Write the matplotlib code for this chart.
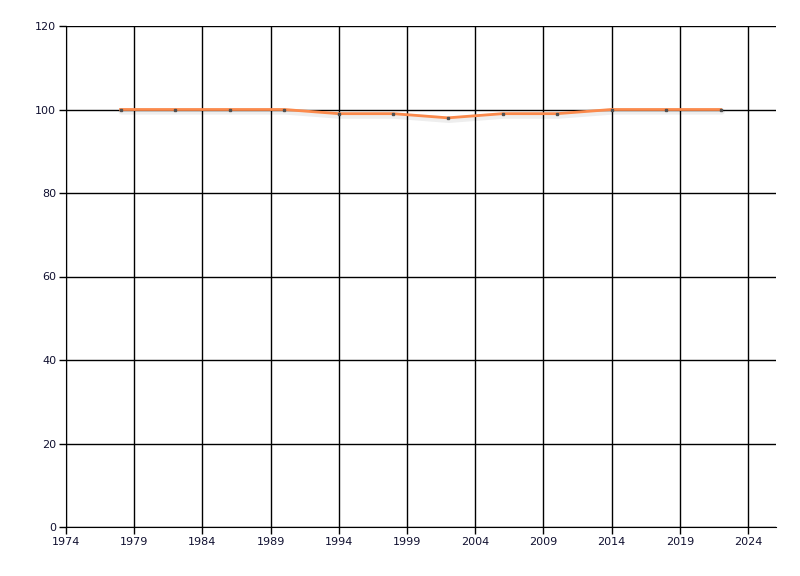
import matplotlib
matplotlib.use("Agg")
import matplotlib.pyplot as plt
import matplotlib.transforms as mtransforms

# donnees
years = [1978, 1982, 1986, 1990, 1994, 1998, 2002, 2006, 2010, 2014, 2018, 2022]
values = [100, 100, 100, 100, 99, 99, 98, 99, 99, 100, 100, 100]
xticks = [1974, 1979, 1984, 1989, 1994, 1999, 2004, 2009, 2014, 2019, 2024]
yticks = [0, 20, 40, 60, 80, 100, 120]

fig = plt.figure(figsize=(8, 5.76), dpi=100)
ax = fig.add_axes([66/800, 1 - 527/576, 710/800, 501/576])

ax.set_xlim(1974, 2026.05)
ax.set_ylim(0, 120)
ax.set_xticks(xticks)
ax.set_yticks(yticks)
ax.grid(True, color="black", linewidth=1, zorder=1)
ax.set_axisbelow(True)

# ombre legere sous la courbe
shadow = mtransforms.offset_copy(ax.transData, fig=fig, x=1, y=-2, units="dots")
ax.plot(years, values, color="#eeeeee", linewidth=4.5, solid_capstyle="round",
        transform=shadow, zorder=0.5)
ax.plot(years, values, color="#fb8a4c", linewidth=2, zorder=3)
ax.plot(years, values, linestyle="none", marker="s", markersize=2,
        color="#505050", zorder=4)

for s in ["top", "right"]:
    ax.spines[s].set_visible(False)
ax.tick_params(length=5, width=1, labelsize=8, labelcolor="#101030", pad=2)

fig.savefig("out.png", dpi=100)
